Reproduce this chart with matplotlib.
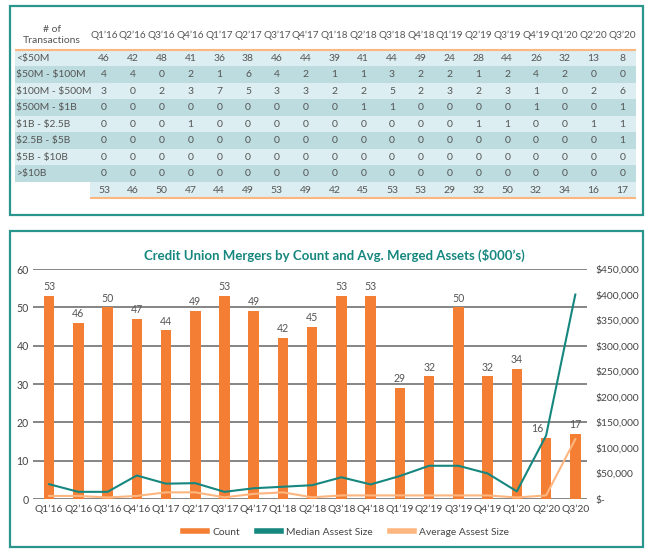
import matplotlib.pyplot as plt
import numpy as np
from matplotlib.patches import Rectangle
from matplotlib.lines import Line2D

plt.rcParams['font.family'] = ['Lato', 'DejaVu Sans']

# data
quarters = ["Q1’16", "Q2’16", "Q3’16", "Q4’16", "Q1’17", "Q2’17", "Q3’17", "Q4’17",
            "Q1’18", "Q2’18", "Q3’18", "Q4’18", "Q1’19", "Q2’19", "Q3’19", "Q4’19",
            "Q1’20", "Q2’20", "Q3’20"]
row_labels = ["<$50M", "$50M - $100M", "$100M - $500M", "$500M - $1B",
              "$1B - $2.5B", "$2.5B - $5B", "$5B - $10B", ">$10B"]
lt_50m = [46, 42, 48, 41, 36, 38, 46, 44, 39, 41, 44, 49, 24, 28, 44, 26, 32, 13, 8]
m50_100 = [4, 4, 0, 2, 1, 6, 4, 2, 1, 1, 3, 2, 2, 1, 2, 4, 2, 0, 0]
m100_500 = [3, 0, 2, 3, 7, 5, 3, 3, 2, 2, 5, 2, 3, 2, 3, 1, 0, 2, 6]
m500_1b = [0, 0, 0, 0, 0, 0, 0, 0, 0, 1, 1, 0, 0, 0, 0, 1, 0, 0, 1]
b1_25 = [0, 0, 0, 1, 0, 0, 0, 0, 0, 0, 0, 0, 0, 1, 1, 0, 0, 1, 1]
b25_5 = [0, 0, 0, 0, 0, 0, 0, 0, 0, 0, 0, 0, 0, 0, 0, 0, 0, 0, 1]
b5_10 = [0] * 19
gt_10b = [0] * 19
counts = [53, 46, 50, 47, 44, 49, 53, 49, 42, 45, 53, 53, 29, 32, 50, 32, 34, 16, 17]
median_assets = [29000, 14000, 14000, 46000, 30000, 31000, 14000, 21000, 24000, 27000,
                 42500, 28500, 45000, 65000, 65000, 50000, 15000, 124000, 400000]
avg_assets = [6000, 6000, 3000, 6000, 13000, 13000, 3300, 10000, 13000, 3300,
              7000, 7000, 7000, 7000, 7000, 7000, 3000, 7000, 117000]

table_rows = [lt_50m, m50_100, m100_500, m500_1b, b1_25, b25_5, b5_10, gt_10b]

TEAL = '#16877f'
BORDER = '#2a958d'
ORANGE = '#f47f34'
LIGHT_ORANGE = '#fdb67f'
TXT = '#555555'

W, H = 650, 560
fig = plt.figure(figsize=(6.5, 5.6), dpi=100)


def px_axes(l, t, r, b):
    return fig.add_axes([l / W, 1 - b / H, (r - l) / W, (b - t) / H])


# panel borders
for (l, t, r, b) in [(10, 6, 643, 215), (10, 231, 643, 547)]:
    fig.patches.append(Rectangle((l / W, 1 - b / H), (r - l) / W, (b - t) / H,
                                 transform=fig.transFigure, fill=False,
                                 edgecolor=BORDER, linewidth=1.6))

# ---- table ----
tx = px_axes(15, 14, 636, 200)
col_w = 28.8
x0 = (15 - 104) / col_w
x1 = (636 - 104) / col_w
row_h = 16.5
y_top = (14 - 58) / row_h
y_bot = (200 - 58) / row_h
tx.set_xlim(x0, x1)
tx.set_ylim(y_bot, y_top)
tx.axis('off')

for r, (label, vals) in enumerate(zip(row_labels, table_rows)):
    tx.axhspan(r - 0.5, r + 0.5, color='#dceef1' if r % 2 == 0 else '#bddcdf', lw=0)
    tx.text(x0 + 0.05, r, label, ha='left', va='center', fontsize=7.4, color=TXT,
            parse_math=False)
    for i, v in enumerate(vals):
        tx.text(i, r, str(v), ha='center', va='center', fontsize=7.5, color=TXT)

tot_start = (90 - 104) / col_w
n = len(row_labels)
tx.axhspan(n - 0.5, n + 0.5, xmin=(tot_start - x0) / (x1 - x0), color='#dceef1', lw=0)
for i, v in enumerate(counts):
    tx.text(i, n, str(v), ha='center', va='center', fontsize=7.5, color=TXT)
for i, q in enumerate(quarters):
    tx.text(i, (35 - 58) / row_h, q, ha='center', va='center', fontsize=7.2, color=TXT)
tx.text((52 - 104) / col_w, (35 - 58) / row_h, "# of\nTransactions", ha='center',
        va='center', fontsize=7.5, color=TXT, linespacing=1.3)
tx.hlines(-0.5, x0, x1, color=LIGHT_ORANGE, lw=1.5)
tx.hlines(n + 0.5, tot_start, x1, color=LIGHT_ORANGE, lw=1.5)

# ---- chart ----
ax = px_axes(33, 269, 587, 499)
x = np.arange(len(quarters))
ax.bar(x, counts, width=0.36, color=ORANGE, zorder=3)
for xi, c in zip(x, counts):
    dx = -0.3 if quarters[xi] == "Q2’20" else 0
    ax.text(xi + dx, c + 1, str(c), ha='center', va='bottom', fontsize=7.6, color=TXT)
ax.set_xlim(-0.55, len(quarters) - 0.6)
ax.set_ylim(0, 60)
ax.set_yticks(range(0, 61, 10))
ax.yaxis.grid(True, color='#858585', lw=1.4, zorder=0)
ax.set_axisbelow(True)
for s in ax.spines.values():
    s.set_visible(False)
ax.set_xticks(x)
ax.set_xticklabels(quarters)
ax.tick_params(axis='both', length=0, labelsize=7.6, colors='#444444')
ax.tick_params(axis='x', labelsize=7.4, pad=4)
ax.tick_params(axis='y', pad=3)

ax2 = ax.twinx()
ax2.plot(x, median_assets, color=TEAL, lw=1.5, zorder=4)
ax2.plot(x, avg_assets, color=LIGHT_ORANGE, lw=1.5, zorder=4)
ax2.set_ylim(0, 450000)
ax2.set_yticks(range(0, 450001, 50000))
ax2.set_yticklabels(['$-' if v == 0 else '${:,}'.format(v) for v in range(0, 450001, 50000)])
for s in ax2.spines.values():
    s.set_visible(False)
ax2.tick_params(axis='y', length=0, labelsize=7.4, colors='#444444', pad=6)

fig.text(334 / W, 1 - 255 / H, "Credit Union Mergers by Count and Avg. Merged Assets ($000’s)",
         ha='center', va='center', fontsize=9.5, fontweight='bold', color=TEAL)

handles = [Line2D([], [], color=ORANGE, lw=4),
           Line2D([], [], color=TEAL, lw=4),
           Line2D([], [], color=LIGHT_ORANGE, lw=4)]
fig.legend(handles, ['Count', 'Median Assest Size', 'Average Assest Size'],
           loc='center', bbox_to_anchor=(346 / W, 1 - 532 / H), ncol=3, frameon=False,
           fontsize=7.4, handlelength=2.4, handletextpad=0.5, columnspacing=1.6,
           labelcolor='#444444')

fig.savefig('out.png', dpi=100)
